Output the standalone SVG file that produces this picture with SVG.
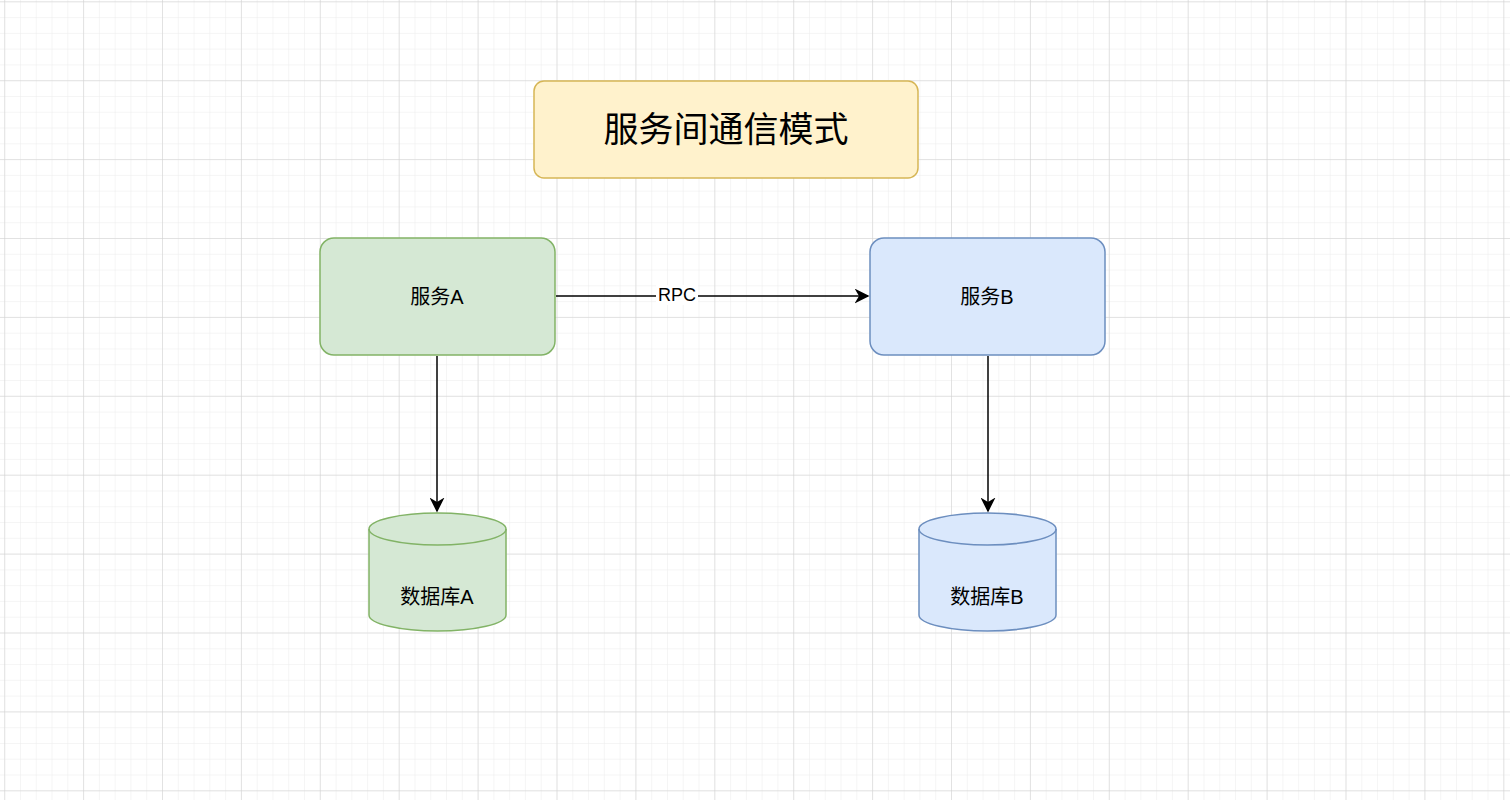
<svg xmlns="http://www.w3.org/2000/svg" width="1510" height="800" viewBox="0 0 1510 800">
<defs>
<pattern id="minor" x="4.2" y="1.3" width="15.78" height="15.78" patternUnits="userSpaceOnUse"><path d="M0 0H15.78M0 0V15.78" fill="none" stroke="#ebebeb" stroke-width="1"/></pattern>
<pattern id="major" x="4.2" y="1.3" width="78.9" height="78.9" patternUnits="userSpaceOnUse"><path d="M0 0H78.9M0 0V78.9" fill="none" stroke="#d0d0d0" stroke-width="1"/></pattern>
<marker id="arr" viewBox="0 0 10 10" refX="9" refY="5" markerWidth="15" markerHeight="15" markerUnits="userSpaceOnUse" orient="auto"><path d="M0 0L10 5L0 10L3 5Z" fill="#000"/></marker>
</defs>
<style>
text{font-family:"Liberation Sans","Noto Sans CJK SC",sans-serif;text-anchor:middle;dominant-baseline:central;fill:#000}
.e{fill:none;stroke:#000;stroke-width:1.5}
</style>
<rect width="1510" height="800" fill="#fff"/>
<rect width="1510" height="800" fill="url(#minor)"/>
<rect width="1510" height="800" fill="url(#major)"/>
<g id="title"><rect x="534" y="81" width="384" height="97" rx="10" fill="#fff2cc" stroke="#d6b656" stroke-width="1.5"/><text x="726" y="129" font-size="35">服务间通信模式</text></g>
<g id="serviceA"><rect x="320" y="238" width="235" height="117" rx="14" fill="#d5e8d4" stroke="#82b366" stroke-width="1.5"/><text x="437" y="297" font-size="20">服务A</text></g>
<g id="serviceB"><rect x="870" y="238" width="235" height="117" rx="14" fill="#dae8fc" stroke="#6c8ebf" stroke-width="1.5"/><text x="987" y="297" font-size="20">服务B</text></g>
<g id="dbA"><path d="M369 529A68.5 16 0 0 1 506 529V615A68.5 16 0 0 1 369 615Z" fill="#d5e8d4" stroke="#82b366" stroke-width="1.5"/><path d="M369 529A68.5 16 0 0 0 506 529" fill="none" stroke="#82b366" stroke-width="1.5"/><text x="437" y="597" font-size="20">数据库A</text></g>
<g id="dbB"><path d="M919 529A68.5 16 0 0 1 1056 529V615A68.5 16 0 0 1 919 615Z" fill="#dae8fc" stroke="#6c8ebf" stroke-width="1.5"/><path d="M919 529A68.5 16 0 0 0 1056 529" fill="none" stroke="#6c8ebf" stroke-width="1.5"/><text x="987" y="597" font-size="20">数据库B</text></g>
<g id="connectors">
<path class="e" d="M556 296H868" marker-end="url(#arr)"/>
<rect x="656" y="285" width="42" height="20" fill="#fff"/>
<text x="677" y="295" font-size="18">RPC</text>
<path class="e" d="M437 356V511" marker-end="url(#arr)"/>
<path class="e" d="M988 356V511" marker-end="url(#arr)"/>
</g>
</svg>
